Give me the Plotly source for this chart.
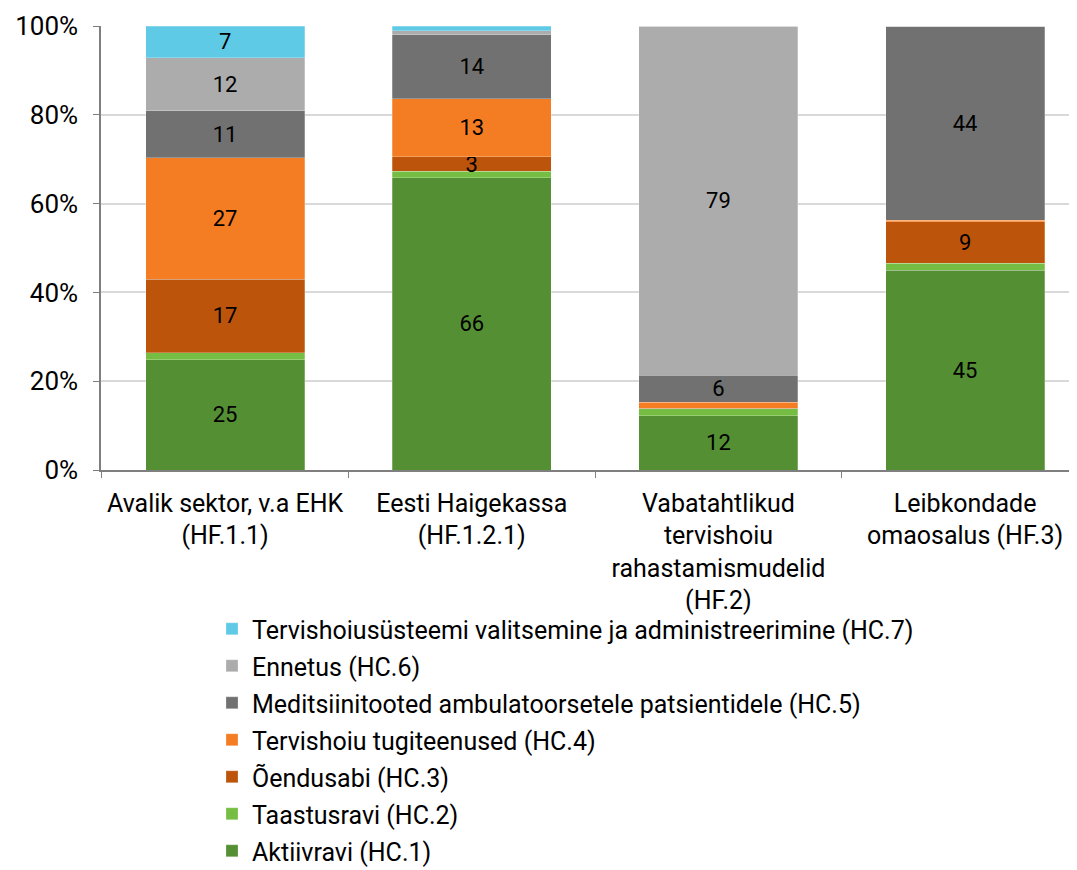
import plotly.graph_objects as go

categories = [
    "Avalik sektor, v.a EHK<br>(HF.1.1)",
    "Eesti Haigekassa<br>(HF.1.2.1)",
    "Vabatahtlikud<br>tervishoiu<br>rahastamismudelid<br>(HF.2)",
    "Leibkondade<br>omaosalus (HF.3)",
]

series_names = [
    "Aktiivravi (HC.1)",
    "Taastusravi (HC.2)",
    "Õendusabi (HC.3)",
    "Tervishoiu tugiteenused (HC.4)",
    "Meditsiinitooted ambulatoorsetele patsientidele (HC.5)",
    "Ennetus (HC.6)",
    "Tervishoiusüsteemi valitsemine ja administreerimine (HC.7)",
]

hc1 = [24.8, 65.8, 12.2, 45.0]
hc2 = [1.6, 1.5, 1.6, 1.6]
hc3 = [16.6, 3.2, 0.1, 9.3]
hc4 = [27.3, 13.1, 1.4, 0.3]
hc5 = [10.6, 14.4, 6.0, 43.8]
hc6 = [11.9, 0.9, 78.6, 0.0]
hc7 = [7.2, 1.1, 0.1, 0.0]

series_values = [hc1, hc2, hc3, hc4, hc5, hc6, hc7]
colors = ["#548f34", "#76be43", "#bc550b", "#f47d23", "#717171", "#acacac", "#5ecae6"]

FONT = "Roboto, sans-serif"

fig = go.Figure()
n = len(series_names)
for i, (name, vals, col) in enumerate(zip(series_names, series_values, colors)):
    labels = [f"{v:.0f}" if v >= 2.5 else "" for v in vals]
    fig.add_trace(go.Bar(
        x=categories, y=vals, name=name,
        marker=dict(color=col, line=dict(color="rgba(255,255,255,0.5)", width=0.5)),
        text=labels, textposition="inside", insidetextanchor="middle",
        textangle=0,
        textfont=dict(color="black", size=22, family=FONT),
        width=0.645, legendgroup=name, legendrank=n - i,
        hoverinfo="name+y",
    ))

# the page body adds an 8px offset; margins compensate for it
OFF = 8
plot_top, plot_bottom, H, W = 26 - OFF, 470 - OFF, 870, 1077
left = 101 - OFF
pw = W - left
ph = plot_bottom - plot_top
legend_top_px = 606 - OFF
legend_left_px = 212 - OFF

fig.update_layout(
    width=W, height=H,
    barmode="stack",
    paper_bgcolor="white", plot_bgcolor="white",
    margin=dict(l=left, r=0, t=plot_top, b=H - plot_bottom, autoexpand=False),
    font=dict(family=FONT, size=25, color="black"),
    uniformtext=dict(minsize=22, mode="show"),
    legend=dict(
        traceorder="grouped", orientation="v",
        x=(legend_left_px - left) / pw, xanchor="left",
        y=-(legend_top_px - plot_bottom) / ph, yanchor="top",
        font=dict(size=25, family=FONT),
        tracegroupgap=1.5, bgcolor="rgba(0,0,0,0)",
    ),
    xaxis=dict(
        range=[-0.503, 3.486], showline=True, linecolor="#7f7f7f", linewidth=1.5,
        ticks="outside", tickson="boundaries", ticklen=6, tickcolor="#7f7f7f",
        tickfont=dict(size=25), showgrid=False, ticklabelstandoff=10,
    ),
    yaxis=dict(
        range=[0, 100], tickvals=[0, 20, 40, 60, 80, 100],
        ticktext=["0%", "20%", "40%", "60%", "80%", "100%"],
        showline=True, linecolor="#7f7f7f", linewidth=1.5,
        ticks="outside", ticklen=6, tickcolor="#7f7f7f",
        gridcolor="#d9d9d9", gridwidth=1.5, tickfont=dict(size=26),
        zeroline=False, ticklabelstandoff=10,
    ),
)

fig.write_html("out.html")
